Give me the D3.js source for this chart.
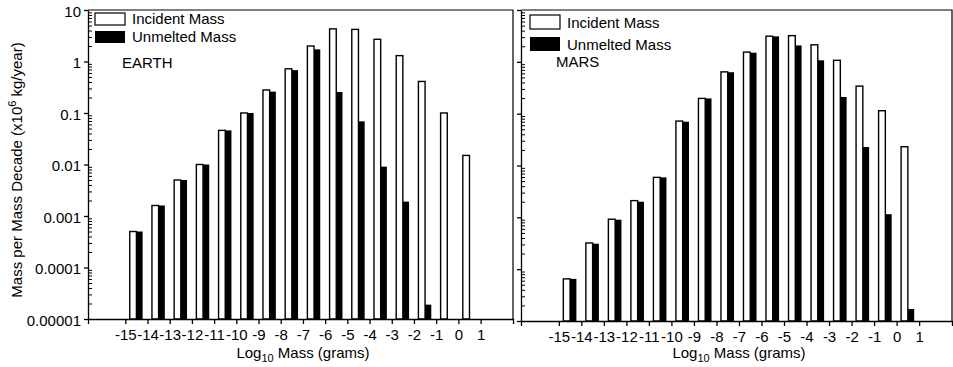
<!DOCTYPE html>
<html>
<head>
<meta charset="utf-8">
<script src="https://cdn.jsdelivr.net/npm/d3@7"></script>
<style>
  body { margin: 0; background: #fff; }
  svg { font-family: "Liberation Sans", Arial, sans-serif; }
</style>
</head>
<body>
<svg id="chart" width="953" height="367"></svg>
<script>
// lower edge of each mass decade (log10 grams)
const massBins = [-15, -14, -13, -12, -11, -10, -9, -8, -7, -6, -5, -4, -3, -2, -1, 0];

// 10^6 kg/year per mass decade
const earthIncident = [0.0005, 0.0016, 0.005, 0.01, 0.046, 0.1, 0.28, 0.72, 2.0, 4.3, 4.2, 2.7, 1.3, 0.41, 0.1, 0.015];
const earthUnmelted = [0.0005, 0.0016, 0.005, 0.01, 0.046, 0.1, 0.26, 0.68, 1.72, 0.256, 0.069, 0.0091, 0.0019, 0.000019, null, null];

const marsIncident = [0.000065, 0.00032, 0.00092, 0.0021, 0.0059, 0.072, 0.197, 0.64, 1.54, 3.12, 3.2, 2.13, 1.07, 0.34, 0.114, 0.023];
const marsUnmelted = [0.000065, 0.00031, 0.0009, 0.002, 0.0059, 0.07, 0.197, 0.63, 1.5, 3.1, 2.07, 1.07, 0.21, 0.0227, 0.00115, 0.000017];

const xTicks = [-15, -14, -13, -12, -11, -10, -9, -8, -7, -6, -5, -4, -3, -2, -1, 0, 1];
const yTicks = [10, 1, 0.1, 0.01, 0.001, 0.0001, 0.00001];
const yTickLabels = ["10", "1", "0.1", "0.01", "0.001", "0.0001", "0.00001"];
const legendLabels = ["Incident Mass", "Unmelted Mass"];

const svg = d3.select("#chart");

const panels = [
  { name: "EARTH", incident: earthIncident, unmelted: earthUnmelted,
    left: 88, right: 513, top: 10, bottom: 319, yLabels: true,
    legend: { x: 95, y: 13, h: 12, gap: 18, nameX: 122, nameY: 68 } },
  { name: "MARS", incident: marsIncident, unmelted: marsUnmelted,
    left: 521, right: 952, top: 10, bottom: 321, yLabels: false,
    legend: { x: 530, y: 15, h: 14, gap: 22, nameX: 556, nameY: 67 } }
];

function drawPanel(p) {
  var x = d3.scaleLinear().domain([-16.68, 2.46]).range([p.left, p.right]);
  var y = d3.scaleLog().domain([0.00001, 10]).range([p.bottom, p.top]);

  var g = svg.append("g");

  // bars: white = incident, black = unmelted
  g.append("g").selectAll("rect")
    .data(massBins.map((b, i) => ({ bin: b, v: p.incident[i] })))
    .join("rect")
    .attr("x", d => x(d.bin + 0.2))
    .attr("width", d => x(d.bin + 0.5) - x(d.bin + 0.2))
    .attr("y", d => y(d.v))
    .attr("height", d => p.bottom - y(d.v))
    .attr("fill", "#fff")
    .attr("stroke", "#000")
    .attr("stroke-width", 1.4);

  g.append("g").selectAll("rect")
    .data(massBins.map((b, i) => ({ bin: b, v: p.unmelted[i] })).filter(d => d.v != null))
    .join("rect")
    .attr("x", d => x(d.bin + 0.5))
    .attr("width", d => x(d.bin + 0.78) - x(d.bin + 0.5))
    .attr("y", d => y(d.v))
    .attr("height", d => p.bottom - y(d.v))
    .attr("fill", "#000");

  // frame top / right
  g.append("path")
    .attr("d", `M${p.left},${p.top}H${p.right}V${p.bottom}`)
    .attr("fill", "none")
    .attr("stroke", "#000")
    .attr("stroke-width", 1.2);

  // x axis (plain hyphen labels like the original)
  var xAxis = g.append("g")
    .attr("transform", `translate(0,${p.bottom})`)
    .call(d3.axisBottom(x).tickValues(xTicks).tickSize(5).tickSizeOuter(5).tickPadding(5)
      .tickFormat(d => String(d)));
  xAxis.selectAll("text").attr("font-size", 15).attr("fill", "#000");
  xAxis.selectAll("path, line").attr("stroke", "#000").attr("stroke-width", 1.3);

  // y axis, major ticks out
  var yAxis = g.append("g")
    .attr("transform", `translate(${p.left},0)`)
    .call(d3.axisLeft(y).tickValues(yTicks).tickSize(4).tickSizeOuter(0)
      .tickFormat((d, i) => p.yLabels ? yTickLabels[i] : ""));
  yAxis.selectAll("text").attr("font-size", 15).attr("fill", "#000").attr("dy", "0.4em");
  yAxis.selectAll("path, line").attr("stroke", "#000").attr("stroke-width", 1.3);

  // minor ticks in
  var minor = [];
  for (var k = -5; k < 1; k++) {
    for (var m = 2; m < 10; m++) minor.push(m * Math.pow(10, k));
  }
  var minorAxis = g.append("g")
    .attr("transform", `translate(${p.left},0)`)
    .call(d3.axisRight(y).tickValues(minor).tickSize(4).tickSizeOuter(0).tickFormat(""));
  minorAxis.select(".domain").remove();
  minorAxis.selectAll("line").attr("stroke", "#000").attr("stroke-width", 1);

  // x title
  var xt = g.append("text")
    .attr("x", (x(-15) + x(1)) / 2)
    .attr("y", 358)
    .attr("text-anchor", "middle")
    .attr("font-size", 15);
  xt.append("tspan").text("Log");
  xt.append("tspan").attr("font-size", 11).attr("dy", 4).text("10");
  xt.append("tspan").attr("dy", -4).text(" Mass (grams)");

  // legend
  var L = p.legend;
  g.append("rect").attr("x", L.x).attr("y", L.y).attr("width", 30).attr("height", L.h)
    .attr("fill", "#fff").attr("stroke", "#000").attr("stroke-width", 1.2);
  g.append("rect").attr("x", L.x).attr("y", L.y + L.gap).attr("width", 30).attr("height", L.h)
    .attr("fill", "#000");
  legendLabels.forEach((t, i) => {
    g.append("text")
      .attr("x", L.x + 37)
      .attr("y", L.y + L.h - 1 + i * L.gap)
      .attr("font-size", 15)
      .text(t);
  });
  g.append("text").attr("x", L.nameX).attr("y", L.nameY).attr("font-size", 15).text(p.name);
}

panels.forEach(drawPanel);

// y title
var yt = svg.append("text")
  .attr("transform", "translate(22,170) rotate(-90)")
  .attr("text-anchor", "middle")
  .attr("font-size", 15);
yt.append("tspan").text("Mass per Mass Decade (x10");
yt.append("tspan").attr("font-size", 11).attr("dy", -6).text("6");
yt.append("tspan").attr("dy", 6).text(" kg/year)");
</script>
</body>
</html>
